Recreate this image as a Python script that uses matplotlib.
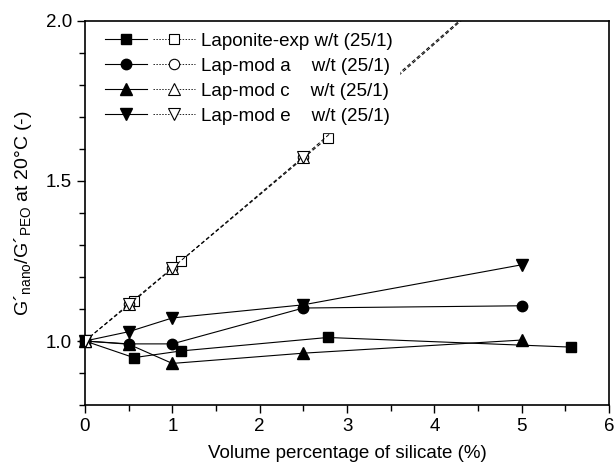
import matplotlib.pyplot as plt
from matplotlib.legend_handler import HandlerTuple
from matplotlib.ticker import MultipleLocator

plt.rcParams['font.family'] = ['Liberation Sans', 'DejaVu Sans']

# measured (filled symbols)
lap_x = [0, 0.56, 1.1, 2.78, 5.56]
lap_y = [1.0, 0.948, 0.969, 1.011, 0.981]
moda_x = [0, 0.5, 1.0, 2.5, 5.0]
moda_y = [1.0, 0.991, 0.991, 1.103, 1.11]
modc_x = [0, 0.5, 1.0, 2.5, 5.0]
modc_y = [1.0, 0.99, 0.93, 0.962, 1.003]
mode_x = [0, 0.5, 1.0, 2.5, 5.0]
mode_y = [1.0, 1.029, 1.072, 1.113, 1.238]

# model (open symbols), last points lie above the plot
lap_open_x = [0, 0.56, 1.1, 2.78, 5.56]
lap_open_y = [1.0, 1.125, 1.25, 1.635, 2.30]
mod_open_x = [0, 0.5, 1.0, 2.5, 5.0]
mod_open_y = [1.0, 1.115, 1.228, 1.575, 2.17]

labels = ['Laponite-exp w/t (25/1)', 'Lap-mod a    w/t (25/1)',
          'Lap-mod c    w/t (25/1)', 'Lap-mod e    w/t (25/1)']

fig = plt.figure(figsize=(6.14, 4.71), dpi=100)
ax = fig.add_axes([0.1384, 0.140, 0.8536, 0.816])

series = [
    (lap_x, lap_y, lap_open_x, lap_open_y, 's', 7),
    (moda_x, moda_y, mod_open_x, mod_open_y, 'o', 7.5),
    (modc_x, modc_y, mod_open_x, mod_open_y, '^', 8),
    (mode_x, mode_y, mod_open_x, mod_open_y, 'v', 8),
]

handles = []
for i, (x, y, xo, yo, m, ms) in enumerate(series):
    h1, = ax.plot(x, y, color='black', lw=0.8, marker=m, ms=ms,
                  mfc='black', mec='black', clip_on=False, zorder=3)
    # the three model curves share the same line, draw it once
    ls = (0, (4, 2.5)) if i < 2 else 'none'
    h2, = ax.plot(xo, yo, color='black', lw=0.7, ls=ls, marker=m,
                  ms=ms, mfc='white', mec='black', mew=0.8, zorder=3)
    h2l, = ax.plot([], [], color='#222222', lw=0.7, ls=(0, (1.5, 1.5)), marker=m,
                   ms=ms, mfc='white', mec='black', mew=0.8)
    handles.append((h1, h2l))

ax.set_xlim(0, 6)
ax.set_ylim(0.8, 2.0)
ax.xaxis.set_major_locator(MultipleLocator(1))
ax.xaxis.set_minor_locator(MultipleLocator(0.5))
ax.yaxis.set_major_locator(MultipleLocator(0.5))
ax.yaxis.set_minor_locator(MultipleLocator(0.1))
ax.tick_params(which='both', direction='out', top=False, right=False,
               labelsize=13.5)
ax.tick_params(which='major', length=6, width=1)
ax.tick_params(which='minor', length=4, width=1)
ax.set_yticks([1.0, 1.5, 2.0])
ax.set_yticklabels(['1.0', '1.5', '2.0'])
for s in ax.spines.values():
    s.set_linewidth(1.2)

ax.set_xlabel('Volume percentage of silicate (%)', fontsize=13.5, labelpad=7)
ax.set_ylabel('G´$_{\\mathregular{nano}}$/G´$_{\\mathregular{PEO}}$ at 20°C (-)',
              fontsize=14, labelpad=8)

leg = ax.legend(handles, labels, handler_map={tuple: HandlerTuple(ndivide=None, pad=0.3)},
                loc='upper left', bbox_to_anchor=(0.015, 1.0), frameon=True,
                fontsize=13.5, handlelength=4.8, handletextpad=0.3,
                labelspacing=0.42, borderpad=0.35, borderaxespad=0.3,
                framealpha=1)
leg.get_frame().set_edgecolor('white')
leg.set_zorder(5)

fig.savefig('out.png', dpi=100)
